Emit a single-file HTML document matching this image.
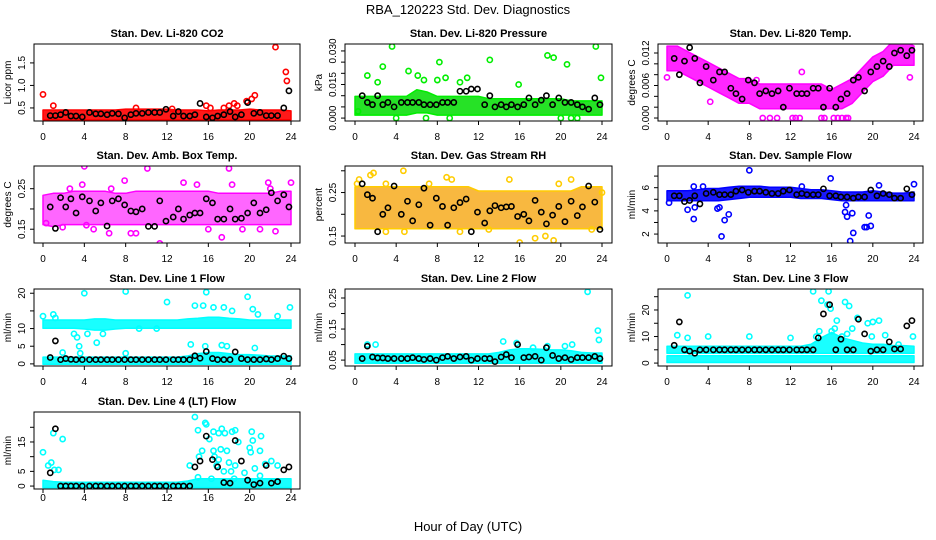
<!DOCTYPE html>
<html><head><meta charset="utf-8"><style>
html,body{margin:0;padding:0;background:#fff;}
svg{display:block;font-family:"Liberation Sans",Arial,sans-serif;}
</style></head><body>
<svg id="chart" width="936" height="540" viewBox="0 0 936 540" xmlns="http://www.w3.org/2000/svg">
<rect width="936" height="540" fill="#fff"/>
<text x="468" y="14" font-size="13" text-anchor="middle">RBA_120223  Std. Dev. Diagnostics</text>
<text x="468" y="531" font-size="13" text-anchor="middle">Hour of Day (UTC)</text>
</svg>
<script>
const xTicks = [0,4,8,12,16,20,24];
const blackHours = [0.7,1.2,1.7,2.2,2.7,3.2,3.8,4.5,5.1,5.6,6.2,6.7,7.3,7.9,8.5,9.0,9.6,10.2,10.8,11.3,11.9,12.6,13.1,13.6,14.2,14.7,15.2,15.8,16.4,16.9,17.5,18.1,18.6,19.2,19.8,20.4,21.0,21.6,22.1,22.7,23.3,23.8];

const p1BandLo = [0.27,0.27,0.27,0.27,0.27,0.27,0.27,0.27,0.27,0.27,0.27,0.27,0.27,0.27,0.27,0.27,0.27,0.27,0.27,0.27,0.27,0.27,0.27,0.27,0.27];
const p1BandHi = [0.42,0.42,0.42,0.42,0.42,0.42,0.42,0.42,0.44,0.44,0.44,0.44,0.44,0.42,0.42,0.42,0.4,0.42,0.42,0.42,0.44,0.42,0.42,0.42,0.4];
const p1Out = [[0,0.8],[1,0.55],[9,0.5],[12.5,0.48],[15.8,0.55],[16.2,0.5],[17.5,0.5],[18,0.55],[18.5,0.6],[18.8,0.55],[19.7,0.65],[20.2,0.7],[20.5,0.78],[22.5,1.85],[23.5,1.3],[23.6,1.1]];
const p1Black = [0.33,0.33,0.35,0.4,0.32,0.32,0.3,0.4,0.37,0.37,0.35,0.38,0.37,0.28,0.35,0.38,0.38,0.4,0.4,0.4,0.47,0.32,0.42,0.32,0.32,0.35,0.6,0.3,0.28,0.32,0.35,0.42,0.3,0.35,0.62,0.38,0.4,0.33,0.33,0.33,0.5,0.88];

const p2BandLo = [0.002,0.002,0.002,0.002,0.002,0.002,0.003,0.003,0.002,0.002,0.002,0.002,0.002,0.002,0.002,0.002,0.002,0.002,0.002,0.002,0.002,0.002,0.002,0.002,0.002];
const p2BandHi = [0.009,0.009,0.009,0.009,0.009,0.009,0.012,0.011,0.009,0.009,0.009,0.009,0.009,0.008,0.008,0.008,0.008,0.008,0.008,0.008,0.008,0.007,0.007,0.007,0.007];
const p2Out = [[0.3,0.003],[1.2,0.019],[2.2,0.016],[2.7,0.023],[3.6,0.032],[4,0],[5.2,0.021],[6.1,0.019],[6.7,0.017],[6.9,0],[8.0,0.017],[8.2,0.025],[8.8,0.018],[9.2,0],[10.2,0.016],[10.9,0.018],[13.1,0.026],[15.9,0.015],[18.7,0.028],[19.3,0.027],[20.6,0.024],[20,0],[21.6,0],[23.4,0.032],[23.9,0.018],[21,0]];
const p2Black = [0.01,0.007,0.006,0.01,0.006,0.007,0.005,0.007,0.007,0.007,0.007,0.006,0.006,0.006,0.007,0.007,0.007,0.012,0.012,0.013,0.013,0.006,0.01,0.005,0.006,0.005,0.006,0.005,0.006,0.009,0.006,0.008,0.01,0.006,0.009,0.007,0.007,0.006,0.005,0.004,0.009,0.006];

const p3BandLo = [0.009,0.009,0.008,0.007,0.006,0.005,0.004,0.003,0.003,0.002,0.002,0.002,0.002,0.002,0.002,0.002,0.002,0.002,0.003,0.005,0.007,0.008,0.010,0.010,0.010];
const p3BandHi = [0.013,0.013,0.012,0.011,0.010,0.009,0.008,0.007,0.007,0.006,0.006,0.006,0.006,0.006,0.006,0.006,0.005,0.006,0.007,0.009,0.011,0.012,0.014,0.014,0.013];
const p3Out = [[9.3,0],[10,0],[10.7,0],[12.2,0],[12.5,0],[12.9,0],[15,0],[15.3,0],[16.2,0],[16.6,0],[17,0],[17.4,0],[17.6,0],[4.2,0.003],[0,0.0075],[13.1,0.0085],[23.6,0.0075],[8.7,0.007]];
const p3Black = [0.011,0.008,0.0105,0.013,0.011,0.0065,0.0095,0.007,0.0085,0.0085,0.0055,0.0045,0.0035,0.007,0.0065,0.0045,0.005,0.0045,0.005,0.002,0.0055,0.0045,0.0045,0.0045,0.0055,0.0055,0.002,0.0055,0.002,0.0035,0.0045,0.007,0.0075,0.005,0.0085,0.0095,0.0105,0.0095,0.012,0.0125,0.0115,0.0125];

const p4BandLo = [0.165,0.16,0.165,0.165,0.165,0.165,0.165,0.165,0.165,0.165,0.165,0.165,0.165,0.165,0.165,0.165,0.165,0.165,0.165,0.165,0.165,0.165,0.165,0.165,0.165];
const p4BandHi = [0.23,0.235,0.235,0.24,0.24,0.24,0.24,0.235,0.235,0.24,0.24,0.24,0.24,0.24,0.24,0.24,0.24,0.235,0.235,0.235,0.235,0.235,0.235,0.24,0.24];
const p4Out = [[4,0.305],[10.1,0.3],[11.3,0.115],[17.3,0.13],[18,0.3],[7.9,0.27],[13.6,0.265],[3.8,0.26],[2.6,0.25],[6.6,0.25],[24,0.265],[0.3,0.165],[6.4,0.14],[8.5,0.14],[9,0.14],[21,0.15],[19.3,0.15],[22.5,0.145],[4.9,0.15],[1.9,0.155],[16,0.15],[4.2,0.16],[18.3,0.26],[14.9,0.26],[22,0.25],[21.8,0.265]];
const p4Black = [0.205,0.152,0.228,0.205,0.225,0.19,0.23,0.22,0.195,0.215,0.158,0.22,0.225,0.21,0.195,0.193,0.2,0.157,0.157,0.22,0.17,0.18,0.2,0.175,0.185,0.19,0.19,0.225,0.215,0.175,0.175,0.2,0.175,0.177,0.19,0.215,0.19,0.198,0.24,0.22,0.235,0.205];

const p5BandLo = [0.17,0.17,0.17,0.17,0.17,0.17,0.17,0.17,0.17,0.17,0.17,0.17,0.17,0.17,0.17,0.17,0.17,0.17,0.17,0.17,0.17,0.17,0.17,0.17,0.17];
const p5BandHi = [0.26,0.26,0.26,0.26,0.26,0.26,0.26,0.26,0.26,0.26,0.26,0.26,0.25,0.25,0.25,0.25,0.25,0.25,0.25,0.25,0.25,0.25,0.26,0.26,0.26];
const p5Out = [[0.2,0.27],[0.4,0.28],[1.5,0.29],[1.8,0.295],[4.7,0.3],[3,0.27],[8.9,0.285],[9.4,0.28],[15,0.28],[21,0.28],[16,0.135],[19.3,0.14],[4.8,0.16],[10.2,0.16],[3,0.16],[13,0.165],[23,0.165],[18.5,0.15],[17.5,0.145],[24,0.25],[19.8,0.27],[7.2,0.27]];
const p5Black = [0.27,0.245,0.237,0.16,0.2,0.215,0.265,0.2,0.23,0.185,0.222,0.26,0.175,0.237,0.218,0.175,0.215,0.227,0.235,0.16,0.205,0.18,0.208,0.22,0.215,0.217,0.218,0.195,0.2,0.185,0.232,0.205,0.178,0.198,0.218,0.183,0.23,0.197,0.217,0.265,0.228,0.165];

const p6BandLo = [5.0,5.0,5.0,5.0,5.0,5.0,5.1,5.2,5.3,5.3,5.3,5.3,5.3,5.2,5.2,5.2,5.1,5.0,5.0,5.0,5.0,5.0,5.0,5.0,5.0];
const p6BandHi = [5.6,5.6,5.6,5.7,5.8,5.8,5.9,6.0,6.0,6.0,5.9,5.9,5.9,5.8,5.7,5.7,5.6,5.5,5.5,5.5,5.6,5.5,5.4,5.4,5.5];
const p6Out = [[2,4.1],[2.6,3.3],[2.7,4.3],[4.9,4.2],[5.1,4.3],[5.3,1.8],[5.6,3.2],[6,3.7],[8,7.5],[13.1,6.1],[15.9,6.8],[17.3,3.9],[17.5,3.5],[17.4,4.5],[17.8,1.4],[18,3.8],[18.1,2.1],[19.2,2.6],[19.4,2.6],[19.6,3.6],[19.8,2.7],[20.6,6.2],[24,6.3],[0.2,4.7],[2.6,6.1],[3.5,6.1]];
const p6Black = [5.3,5.3,4.8,4.9,5.3,4.6,5.5,5.6,5.4,5.4,5.4,5.7,5.8,5.6,5.7,5.7,5.6,5.5,5.5,5.7,5.8,5.4,5.5,5.4,5.4,5.4,5.9,5.3,5.3,5.2,5.2,5.1,5.2,5.2,5.8,5.3,5.5,5.4,5.1,5.1,5.9,5.4];

const p7BandLo = [10.5,10.5,10.5,10.5,10.3,10,10,10.3,10.5,10.5,10.5,10.5,10.5,10.5,10.5,10.5,10.5,10.5,10.5,10.5,10.5,10.5,10.5,10.5,10.5];
const p7BandHi = [12,12,12,12,12,12.3,12.3,12,12,12,12,12,12,12,12.3,12.5,12.8,12.8,12.5,12.3,12,12,12,12,12];
const p7Band2Lo = [0.3,0.3,0.3,0.3,0.3,0.3,0.3,0.3,0.3,0.3,0.3,0.3,0.3,0.3,0.3,0.3,0.3,0.3,0.3,0.3,0.3,0.3,0.3,0.3,0.3];
const p7Band2Hi = [1.5,1.5,1.5,1.5,1.5,1.5,1.5,1.5,1.5,1.5,1.5,1.5,1.5,1.5,1.8,2.5,2.8,2.8,2.5,2.2,2.2,2,1.8,1.8,1.8];
const p7Out = [[0,13.5],[1,14],[1.2,13],[4,20],[8,20.5],[12,17.5],[15.8,20.3],[19.8,19],[23.9,16],[14.7,16.5],[15.5,16.5],[16.5,16],[17.5,16],[18.3,15],[20.3,15.5],[20.8,14],[22.7,13.5],[3,8.5],[3.3,7.5],[3.5,5],[3.6,3],[4.3,8.5],[5.2,6],[5.8,8.5],[1.9,3.2],[8,3],[14.3,5.5],[15.7,5],[17.3,5.3],[17.8,5],[20.5,4.5],[9.3,10],[11,10]];
const p7Black = [1.8,6.5,1.2,1.5,1.3,1.2,1.2,1.2,1.2,1.2,1.2,1.2,1.2,1.2,1.2,1.2,1.2,1.2,1.2,1.2,1.2,1.2,1.2,1.2,1.2,2.3,1.6,3.5,1.5,1.2,1.2,1.2,3.4,1.5,1.2,1.2,1.2,1.4,1.2,1.5,2.2,1.5];

const p8BandLo = [0.045,0.045,0.045,0.045,0.045,0.045,0.045,0.045,0.045,0.045,0.045,0.045,0.045,0.045,0.045,0.045,0.045,0.045,0.045,0.045,0.045,0.045,0.045,0.045,0.045];
const p8BandHi = [0.065,0.065,0.065,0.065,0.065,0.065,0.065,0.065,0.065,0.065,0.065,0.065,0.065,0.065,0.07,0.078,0.082,0.082,0.08,0.078,0.078,0.075,0.07,0.068,0.068];
const p8Out = [[1.2,0.1],[2,0.1],[14.4,0.11],[15.7,0.105],[22.6,0.27],[23.6,0.145],[23.7,0.115],[20.4,0.095],[21.1,0.1],[18.7,0.095],[17.3,0.09]];
const p8Black = [0.055,0.095,0.06,0.057,0.057,0.055,0.055,0.055,0.055,0.058,0.055,0.052,0.055,0.05,0.058,0.062,0.055,0.06,0.062,0.05,0.055,0.055,0.055,0.045,0.06,0.068,0.058,0.1,0.058,0.06,0.062,0.05,0.09,0.065,0.055,0.058,0.052,0.058,0.058,0.058,0.062,0.055];

const p9BandLo = [4.3,4.3,4.3,4.3,4.3,4.3,4.3,4.3,4.3,4.3,4.3,4.3,4.3,4.3,4.3,4.3,4.3,4.3,4.3,4.3,4.3,4.3,4.3,4.3,4.3];
const p9BandHi = [5.8,5.8,5.8,5.8,5.8,5.8,5.8,5.8,5.8,5.8,5.8,5.8,5.8,5.8,6.5,9,11,9,8,7,6.5,6.5,6,6,5.8];
const p9Band2Lo = [0.8,0.8,0.8,0.8,0.8,0.8,0.8,0.8,0.8,0.8,0.8,0.8,0.8,0.8,0.8,0.8,0.8,0.8,0.8,0.8,0.8,0.8,0.8,0.8,0.8];
const p9Band2Hi = [2.2,2.2,2.2,2.2,2.2,2.2,2.2,2.2,2.2,2.2,2.2,2.2,2.2,2.2,2.2,2.2,2.2,2.2,2.2,2.2,2.2,2.2,2.2,2.2,2.2];
const p9Out = [[2,25.5],[1,10.5],[2,9.5],[4,10],[8,10],[12,9.5],[14.2,27],[15,23.5],[15.7,27],[15.6,22],[15.9,20.5],[16.5,16],[17.3,23],[17.7,21.5],[18.5,17],[19.5,15],[20,15.5],[20.6,16],[21.2,10.5],[23.9,10],[14.8,12],[16,12],[18,13],[14.5,10],[19.9,10],[17,10],[22.5,7],[16.3,13],[17.5,11]];
const p9Black = [6.7,15.5,5,4.5,3.7,5,5,5,5,5,5,5,5,5,5,5,5,5,5,5,5,5,5,5,5,9.5,18.5,22,5,9,5,5,16.5,11,4.5,5,5,8,5.3,5.3,14,16];

const p10Band2Lo = [0,0,0,0,0,0,0,0,0,0,0,0,0,0,0,0,0,0,0,0,0,0,0,0,0];
const p10Band2Hi = [1.5,1,0.8,0.8,0.8,0.8,0.8,0.8,0.8,0.8,0.8,0.8,0.8,0.8,1.2,2,2,2,2,2,2,2,2,2,2];
const p10Out = [[0,11.5],[0.5,7],[0.8,8],[1,18],[1.1,5.5],[1.5,5.5],[1.9,16],[14.7,23.5],[15,19],[15.7,21.5],[15.8,21],[16.1,16],[16.5,18.5],[17.3,19.5],[17,18],[17.6,18],[18.3,18.5],[18.6,19],[18.9,15],[20.2,18.5],[20.3,15.5],[20,13],[21.1,17],[20.1,11.5],[21,12],[22.1,8.5],[22.7,7],[15.1,10],[15.4,12],[16.6,10],[16.5,12],[17.2,12.5],[17.8,12],[16.8,7],[17.5,5],[18.2,5],[18.6,7],[19.5,4.5],[20.5,6],[21.5,7.5],[14.2,7],[15,3],[16.3,2.5],[18.5,2.5],[21,3.5],[17,9],[18,8]];
const p10Black = [4.5,19.5,0,0,0,0,0,0,0,0,0,0,0,0,0,0,0,0,0,0,0,0,0,0,0,6.5,8.5,17,9,6.5,1.2,1,15.5,8.5,2,0.5,1,7,1,1.5,5.5,6.5];

const NS = "http://www.w3.org/2000/svg";
const svg = document.getElementById("chart");
function mk(tag, attrs, parent){const e=document.createElementNS(NS,tag);for(const k in attrs)e.setAttribute(k,attrs[k]);(parent||svg).appendChild(e);return e;}

const rowTop=[44,166,289,412], colLeft=[34,345,658], colRight=[300,612,923], x0px=[43,355,667], x24px=[291,602,914];
const panels=[
 {t:"Stan. Dev. Li-820 CO2",yl:"Licor ppm",r:0,c:0,d:[0.21,1.92],ticks:[0.5,1.0,1.5],labs:[0.5,1.0,1.5],fmt:1,col:"#ff0000",bandCol:"#ff0000",op:0.9,bands:[[p1BandLo,p1BandHi]],out:p1Out,blk:p1Black},
 {t:"Stan. Dev. Li-820 Pressure",yl:"kPa",r:0,c:1,d:[-0.0013,0.0331],ticks:[0,0.005,0.01,0.015,0.02,0.025,0.03],labs:[0,0.015,0.03],fmt:3,col:"#00ee00",bandCol:"#00dd00",op:0.85,bands:[[p2BandLo,p2BandHi]],out:p2Out,blk:p2Black},
 {t:"Stan. Dev. Li-820 Temp.",yl:"degrees C",r:0,c:2,d:[-0.00055,0.01366],ticks:[0,0.002,0.004,0.006,0.008,0.01,0.012],labs:[0,0.006,0.012],fmt:3,col:"#ff00ff",bandCol:"#ff00ff",op:0.85,bands:[[p3BandLo,p3BandHi]],out:p3Out,blk:p3Black},
 {t:"Stan. Dev. Amb. Box Temp.",yl:"degrees C",r:1,c:0,d:[0.116,0.306],ticks:[0.15,0.2,0.25],labs:[0.15,0.25],fmt:2,col:"#ff00ff",bandCol:"#ff00ff",op:0.6,bands:[[p4BandLo,p4BandHi]],out:p4Out,blk:p4Black},
 {t:"Stan. Dev. Gas Stream RH",yl:"percent",r:1,c:1,d:[0.134,0.311],ticks:[0.15,0.2,0.25,0.3],labs:[0.15,0.25],fmt:2,col:"#ffcc00",bandCol:"#f5a000",op:0.75,bands:[[p5BandLo,p5BandHi]],out:p5Out,blk:p5Black},
 {t:"Stan. Dev. Sample Flow",yl:"ml/min",r:1,c:2,d:[1.23,7.87],ticks:[2,3,4,5,6,7],labs:[2,4,6],fmt:0,col:"#0000ff",bandCol:"#0000ff",op:0.9,bands:[[p6BandLo,p6BandHi]],out:p6Out,blk:p6Black},
 {t:"Stan. Dev. Line 1 Flow",yl:"ml/min",r:2,c:0,d:[-0.6,21.2],ticks:[0,5,10,15,20],labs:[0,5,10,20],fmt:0,col:"#00ffff",bandCol:"#00ffff",op:0.9,bands:[[p7BandLo,p7BandHi],[p7Band2Lo,p7Band2Hi]],out:p7Out,blk:p7Black},
 {t:"Stan. Dev. Line 2 Flow",yl:"ml/min",r:2,c:1,d:[0.031,0.279],ticks:[0.05,0.1,0.15,0.2,0.25],labs:[0.05,0.15,0.25],fmt:2,col:"#00ffff",bandCol:"#00ffff",op:0.9,bands:[[p8BandLo,p8BandHi]],out:p8Out,blk:p8Black},
 {t:"Stan. Dev. Line 3 Flow",yl:"ml/min",r:2,c:2,d:[-1.1,27.9],ticks:[0,5,10,15,20,25],labs:[0,10,20],fmt:0,col:"#00ffff",bandCol:"#00ffff",op:0.9,bands:[[p9BandLo,p9BandHi],[p9Band2Lo,p9Band2Hi]],out:p9Out,blk:p9Black},
 {t:"Stan. Dev. Line 4 (LT) Flow",yl:"ml/min",r:3,c:0,d:[-1,25.2],ticks:[0,5,10,15,20],labs:[0,5,15],fmt:0,col:"#00ffff",bandCol:"#00ffff",op:0.9,bands:[[p10Band2Lo,p10Band2Hi]],out:p10Out,blk:p10Black}
];

panels.forEach((p,i)=>{
 const top=rowTop[p.r], bot=top+77, L=colLeft[p.c], R=colRight[p.c];
 const xs=h=>x0px[p.c]+(x24px[p.c]-x0px[p.c])*h/24;
 const ys=v=>bot-(v-p.d[0])/(p.d[1]-p.d[0])*(bot-top);
 const g=mk("g",{});
 
 
 const clipId="clip"+i;
 const cp=mk("clipPath",{id:clipId},g); mk("rect",{x:L,y:top,width:R-L,height:bot-top},cp);
 const plot=mk("g",{"clip-path":"url(#"+clipId+")"},g);
 p.bands.forEach((b,bi)=>{
  let pts=[];
  b[1].forEach((v,h)=>pts.push(xs(h).toFixed(1)+","+(ys(v)-1.5).toFixed(1)));
  for(let h=b[0].length-1;h>=0;h--) pts.push(xs(h).toFixed(1)+","+(ys(b[0][h])+1.5).toFixed(1));
  const poly=mk("polygon",{points:pts.join(" "),fill:p.bandCol,"fill-opacity":p.op,stroke:p.col,"stroke-width":1.5,"stroke-linejoin":"round"},plot);
  
  
 });
 p.out.forEach(o=>{
  const c=mk("circle",{cx:xs(o[0]),cy:ys(o[1]),r:2.6,fill:"none",stroke:p.col,"stroke-width":1.6},plot);
  
  
 });
 p.blk.forEach((v,k)=>{
  const c=mk("circle",{cx:xs(blackHours[k]),cy:ys(v),r:2.6,fill:"none",stroke:"#000","stroke-width":1.6},plot);
  
  
 });
 const box=mk("rect",{x:L,y:top,width:R-L,height:bot-top,fill:"none",stroke:"#000","stroke-width":1},g);
 
 
 const tt=mk("text",{x:(L+R)/2,y:top-7,"font-size":11,"font-weight":"bold","text-anchor":"middle"},g);
 tt.textContent=p.t;
 
 
 const lblOff = p.r===3 ? 12 : 19;
 xTicks.forEach(h=>{
  mk("line",{x1:xs(h),x2:xs(h),y1:bot,y2:bot+4,stroke:"#000"},g);
  const t=mk("text",{x:xs(h),y:bot+lblOff,"font-size":10,"text-anchor":"middle"},g);
  t.textContent=h;
  
  
 });
 p.ticks.forEach(v=>{
  mk("line",{x1:L,x2:L-4,y1:ys(v),y2:ys(v),stroke:"#000"},g);
 });
 p.labs.forEach(v=>{
  const y=ys(v), x=L-9;
  const t=mk("text",{x:x,y:y,"font-size":10,"text-anchor":"middle",transform:"rotate(-90 "+x+" "+y+")"},g);
  t.textContent=v.toFixed(p.fmt);
  
  
 });
 const yx=L-23, yy=(top+bot)/2;
 const yl=mk("text",{x:yx,y:yy,"font-size":10,"text-anchor":"middle",transform:"rotate(-90 "+yx+" "+yy+")"},g);
 yl.textContent=p.yl;
 
 
});
</script>
</body></html>
